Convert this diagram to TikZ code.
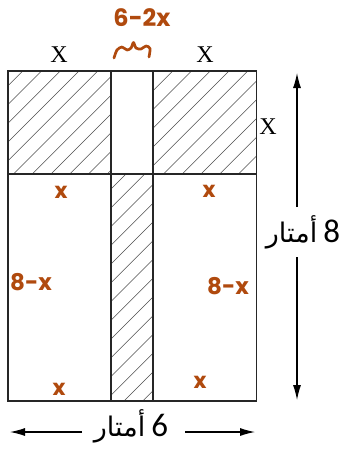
\documentclass[tikz,border=0pt]{standalone}
\usepackage{fontspec}
\setmainfont{Liberation Serif}
\newfontfamily\arabicfont[Script=Arabic]{DejaVu Sans}
\newfontfamily\digitfont{Carlito}
\newfontfamily\handfont{Poppins}
\TeXXeTstate=1
\usetikzlibrary{arrows.meta}
\definecolor{handbrown}{RGB}{176,74,14}
\tikzset{
  frame/.style={line width=1.3pt, draw=black!85},
  hatchline/.style={line width=0.6pt, draw=black!70},
  arr/.style={line width=1.1pt, -{Latex[length=15pt,width=8pt]}},
  xlab/.style={inner sep=0pt, font=\fontsize{24}{24}\selectfont},
  handlab/.style={inner sep=0pt, text=handbrown, font=\handfont\bfseries\fontsize{24}{24}\selectfont},
  handmid/.style={inner sep=0pt, text=handbrown, font=\handfont\bfseries\fontsize{23}{23}\selectfont},
  handsmall/.style={inner sep=0pt, text=handbrown, font=\handfont\bfseries\fontsize{22}{22}\selectfont},
  handline/.style={line width=2.7pt, draw=handbrown, line cap=round, line join=round},
  dimlab/.style={inner sep=0pt}
}
\begin{document}
\begin{tikzpicture}[x=1pt,y=-1pt]
\useasboundingbox (0,0) rectangle (345,452);
% hatching
\begin{scope}
  \clip (8,71) rectangle (111,174) (153,71) rectangle (256.5,174) (111,174) rectangle (153,401);
  \foreach \k in {-6,...,40} {
    \draw[hatchline] ({93.7+18.75*\k},0) -- ({93.7+18.75*\k-460},460);
  }
\end{scope}
% frame
\draw[frame] (8,71) rectangle (256.5,401);
\draw[frame] (111,71) -- (111,401);
\draw[frame] (153,71) -- (153,401);
\draw[frame] (8,174) -- (256.5,174);
% printed labels
\node[xlab] (xa) at (59,55) {X};
\node[xlab] (xb) at (205,55) {X};
\node[xlab] (xc) at (268,127) {X};
% dimension labels
\node[dimlab] (lh) at (303,232) {{\arabicfont\fontsize{27}{27}\selectfont\beginR أمتار\endR}\hspace{6pt}{\digitfont\fontsize{33}{33}\selectfont 8}};
\node[dimlab] (lw) at (131,426) {{\arabicfont\fontsize{27}{27}\selectfont\beginR أمتار\endR}\hspace{6pt}{\digitfont\fontsize{33}{33}\selectfont 6}};
% arrows
\coordinate (vt) at (297,73);
\coordinate (vu) at (297,207);
\coordinate (vl) at (297,257);
\coordinate (vb) at (297,400);
\coordinate (hl) at (10,432);
\coordinate (hu) at (82,432);
\coordinate (hv) at (185,432);
\coordinate (hr) at (255,432);
\draw[arr] (vu) -- (vt);
\draw[arr] (vl) -- (vb);
\draw[arr] (hu) -- (hl);
\draw[arr] (hv) -- (hr);
% handwritten annotations
\node[handlab] (h62x) at (142,18) {6-2x};
\draw[handline] plot[smooth] coordinates {(114,58) (117,50) (122,47) (127,50) (131,48) (133.5,42.5) (136,48) (141,49) (146,46) (150,48.5) (149,57)};
\node[handsmall] (ha) at (61,192) {x};
\node[handsmall] (hb) at (209,191) {x};
\node[handsmall] (hc) at (59,389) {x};
\node[handsmall] (hd) at (200,382) {x};
\node[handmid] (he) at (31,282) {8-x};
\node[handmid] (hf) at (228,286) {8-x};
\end{tikzpicture}
\end{document}
